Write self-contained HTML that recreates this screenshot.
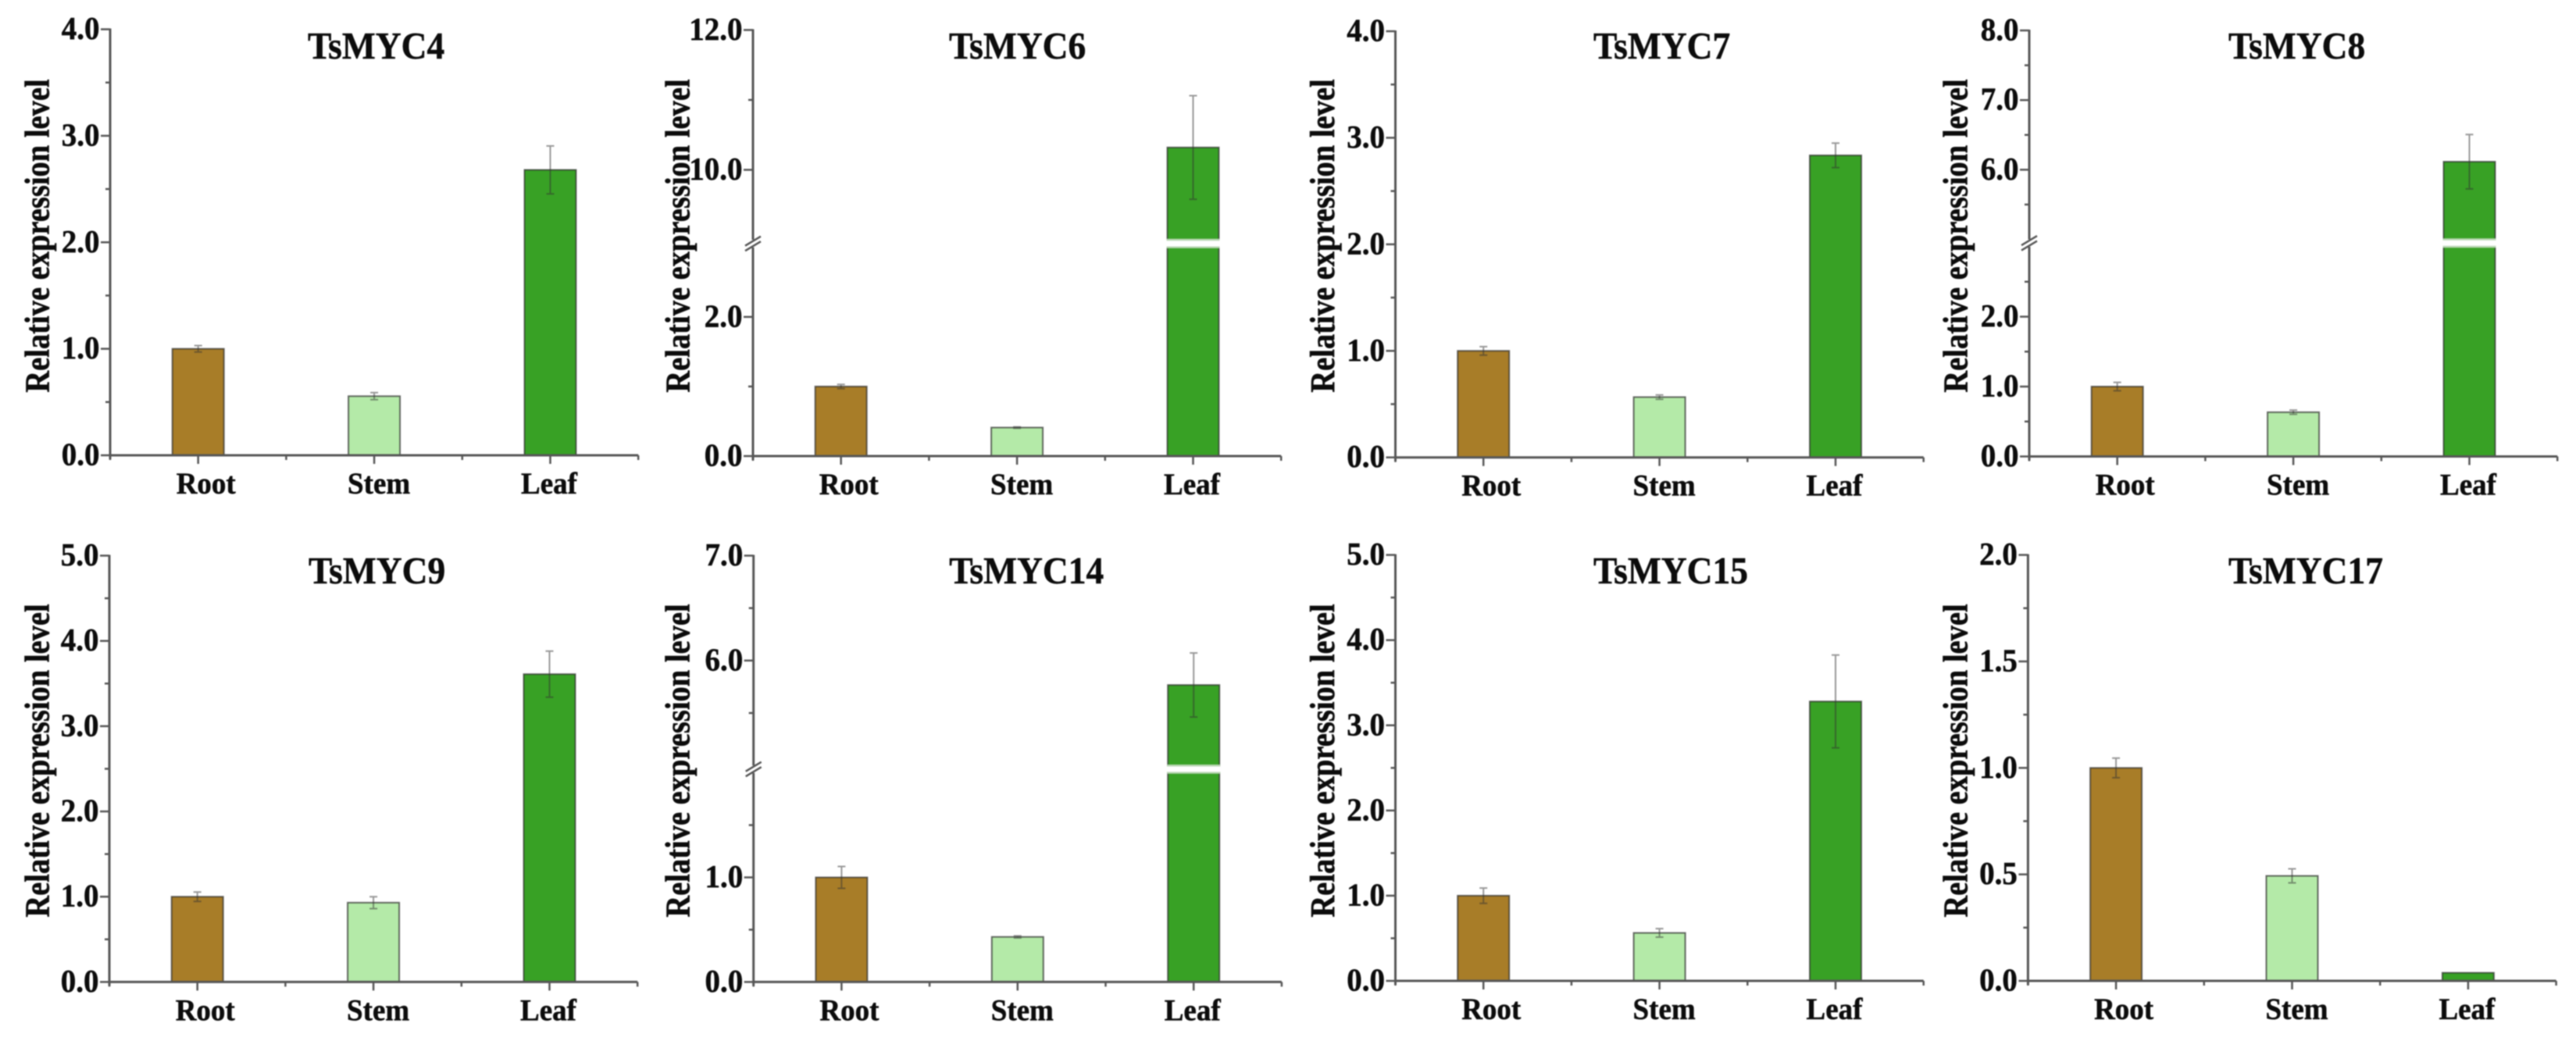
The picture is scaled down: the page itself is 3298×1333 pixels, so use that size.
<!DOCTYPE html>
<html lang="en">
<head>
<meta charset="utf-8">
<title>TsMYC relative expression levels</title>
<style>
html,body{margin:0;padding:0;background:#fff;width:3298px;height:1333px;overflow:hidden}
svg{display:block;filter:blur(0.8px)}
text{font-family:"Liberation Serif",serif;font-weight:bold;fill:#0c0c0c;stroke:#0c0c0c;stroke-width:0.5px}
</style>
</head>
<body>
<svg id="figure" xmlns="http://www.w3.org/2000/svg" width="3298" height="1333" viewBox="0 0 3298 1333"></svg>
<script>
// ---- chart data ----
const categories = ['Root', 'Stem', 'Leaf'];
const geneNames = ['TsMYC4', 'TsMYC6', 'TsMYC7', 'TsMYC8', 'TsMYC9', 'TsMYC14', 'TsMYC15', 'TsMYC17'];

const tsMYC4Values = [1.0, 0.555, 2.68];
const tsMYC4Errors = [0.03, 0.033, 0.225];
const tsMYC6Values = [1.0, 0.41, 10.32];
const tsMYC6Errors = [0.03, 0.01, 0.74];
const tsMYC7Values = [1.0, 0.566, 2.835];
const tsMYC7Errors = [0.04, 0.02, 0.115];
const tsMYC8Values = [1.0, 0.633, 6.115];
const tsMYC8Errors = [0.06, 0.03, 0.39];
const tsMYC9Values = [1.0, 0.93, 3.61];
const tsMYC9Errors = [0.055, 0.07, 0.27];
const tsMYC14Values = [1.0, 0.431, 5.767];
const tsMYC14Errors = [0.105, 0.01, 0.305];
const tsMYC15Values = [1.0, 0.563, 3.28];
const tsMYC15Errors = [0.09, 0.05, 0.545];
const tsMYC17Values = [1.0, 0.493, 0.038];
const tsMYC17Errors = [0.046, 0.033, 0];

const tsMYC4Ticks = ['0.0', '1.0', '2.0', '3.0', '4.0'];
const tsMYC6Ticks = ['0.0', '2.0', '10.0', '12.0'];
const tsMYC7Ticks = ['0.0', '1.0', '2.0', '3.0', '4.0'];
const tsMYC8Ticks = ['0.0', '1.0', '2.0', '6.0', '7.0', '8.0'];
const tsMYC9Ticks = ['0.0', '1.0', '2.0', '3.0', '4.0', '5.0'];
const tsMYC14Ticks = ['0.0', '1.0', '6.0', '7.0'];
const tsMYC15Ticks = ['0.0', '1.0', '2.0', '3.0', '4.0', '5.0'];
const tsMYC17Ticks = ['0.0', '0.5', '1.0', '1.5', '2.0'];

const tsMYC4Minor = [0.5, 1.5, 2.5, 3.5];
const tsMYC6Minor = [1, 11];
const tsMYC7Minor = [0.5, 1.5, 2.5, 3.5];
const tsMYC8Minor = [0.5, 1.5, 2.5, 5.5, 6.5, 7.5];
const tsMYC9Minor = [0.5, 1.5, 2.5, 3.5, 4.5];
const tsMYC14Minor = [0.5, 1.5, 5.5, 6.5];
const tsMYC15Minor = [0.5, 1.5, 2.5, 3.5, 4.5];
const tsMYC17Minor = [0.25, 0.75, 1.25, 1.75];

// axis ranges: [lower start, lower end, upper start, upper end]; no break when only two values
const tsMYC4Range = [0, 4];
const tsMYC6Range = [0, 3, 9, 12];
const tsMYC7Range = [0, 4];
const tsMYC8Range = [0, 3, 5, 8];
const tsMYC9Range = [0, 5];
const tsMYC14Range = [0, 2, 5, 7];
const tsMYC15Range = [0, 5];
const tsMYC17Range = [0, 2];

const seriesValues = [tsMYC4Values, tsMYC6Values, tsMYC7Values, tsMYC8Values, tsMYC9Values, tsMYC14Values, tsMYC15Values, tsMYC17Values];
const seriesErrors = [tsMYC4Errors, tsMYC6Errors, tsMYC7Errors, tsMYC8Errors, tsMYC9Errors, tsMYC14Errors, tsMYC15Errors, tsMYC17Errors];
const seriesTicks = [tsMYC4Ticks, tsMYC6Ticks, tsMYC7Ticks, tsMYC8Ticks, tsMYC9Ticks, tsMYC14Ticks, tsMYC15Ticks, tsMYC17Ticks];
const seriesMinor = [tsMYC4Minor, tsMYC6Minor, tsMYC7Minor, tsMYC8Minor, tsMYC9Minor, tsMYC14Minor, tsMYC15Minor, tsMYC17Minor];
const seriesRanges = [tsMYC4Range, tsMYC6Range, tsMYC7Range, tsMYC8Range, tsMYC9Range, tsMYC14Range, tsMYC15Range, tsMYC17Range];

// ---- layout (pixel frames of each panel, not data) ----
const frames = [
  {ax: 141,    top: 37.5,  base: 583,    lab: 78.5, titleDx: 253, titleY: 75,  labCy: 302},
  {ax: 964,    top: 38.4,  base: 584,    lab: 81.4, titleDx: 251, titleY: 75,  labCy: 302, gapTop: 307,   gapBot: 316.7},
  {ax: 1786.5, top: 40,    base: 585.7,  lab: 78.5, titleDx: 253.5, titleY: 75, labCy: 302},
  {ax: 2598,   top: 39,    base: 584.5,  lab: 79.5, titleDx: 255, titleY: 75,  labCy: 302, gapTop: 306.5, gapBot: 316},
  {ax: 140,    top: 711.5, base: 1257.4, lab: 77.5, titleDx: 255, titleY: 747, labCy: 974},
  {ax: 964.7,  top: 711.5, base: 1257.4, lab: 82,   titleDx: 250.5, titleY: 747, labCy: 974, gapTop: 980.2, gapBot: 989.6},
  {ax: 1786.5, top: 710.6, base: 1256,   lab: 78.5, titleDx: 253.5, titleY: 747, labCy: 974},
  {ax: 2596.4, top: 710.6, base: 1256,   lab: 78,   titleDx: 256.6, titleY: 747, labCy: 974}
];
const barFills = ['#a87d28', '#b4eaa8', '#38a125'];
const slotWidth = 112.7;
const barWidth = 66;
const labelNudges = [10, 6, -1.5];
const textStretch = 1.07;
const yTitleStretch = 1.16;

const NS = 'http://www.w3.org/2000/svg';
const svg = document.getElementById('figure');

function make(parent, tag, attrs, content) {
  const el = document.createElementNS(NS, tag);
  for (const k in attrs) el.setAttribute(k, attrs[k]);
  if (content !== undefined) el.textContent = content;
  parent.appendChild(el);
  return el;
}

function place(x, y) {
  return 'translate(' + x + ',' + y + ') scale(1,' + textStretch + ')';
}

function makeYScale(range, f) {
  if (range.length === 2) {
    return v => f.base - (v - range[0]) / (range[1] - range[0]) * (f.base - f.top);
  }
  return v => {
    if (v <= range[1]) return f.base - (v - range[0]) / (range[1] - range[0]) * (f.base - f.gapBot);
    return f.gapTop - (v - range[2]) / (range[3] - range[2]) * (f.gapTop - f.top);
  };
}

geneNames.forEach((gene, p) => {
  const f = frames[p];
  const range = seriesRanges[p];
  const y = makeYScale(range, f);
  const x = slot => f.ax + slotWidth * slot;
  const hasBreak = range.length === 4;
  const slug = gene.toLowerCase();

  const g = make(svg, 'g', {});
  
  

  const title = make(g, 'text', {transform: place(f.ax + f.titleDx, f.titleY), 'font-size': 45.5}, gene);
  
  

  const yTitle = make(g, 'text', {
    transform: 'translate(' + (f.ax - f.lab) + ',' + f.labCy + ') rotate(-90) scale(1,' + yTitleStretch + ')',
    'text-anchor': 'middle', 'font-size': 38.5
  }, 'Relative expression level');
  
  

  // bars
  categories.forEach((cat, i) => {
    const v = seriesValues[p][i];
    const cx = x(2 * i + 1);
    const barStyle = {
      x: cx - barWidth / 2, width: barWidth, fill: barFills[i],
      stroke: 'rgba(40,40,40,0.68)', 'stroke-width': 2
    };
    if (hasBreak && v > range[1]) {
      const lower = make(g, 'rect', Object.assign({}, barStyle, {y: f.gapBot, height: f.base - f.gapBot}));
      
      
      const upper = make(g, 'rect', Object.assign({}, barStyle, {y: y(v), height: f.gapTop - y(v)}));
      
      
      const gapEdges = make(g, 'path', {
        d: 'M' + (cx - barWidth / 2 - 1) + ' ' + f.gapTop + 'h' + (barWidth + 2) + 'M' + (cx - barWidth / 2 - 1) + ' ' + f.gapBot + 'h' + (barWidth + 2),
        stroke: '#b9d6b3', 'stroke-width': 2.4, fill: 'none'
      });
      
      
    } else {
      const bar = make(g, 'rect', Object.assign({}, barStyle, {y: y(v), height: f.base - y(v)}));
      
      
    }

    const e = seriesErrors[p][i];
    if (e > 0) {
      const hi = y(v + e), lo = y(v - e);
      const err = make(g, 'path', {
        d: 'M' + (cx - 5) + ' ' + hi + 'H' + (cx + 5) + 'M' + cx + ' ' + hi + 'V' + lo + 'M' + (cx - 5) + ' ' + lo + 'H' + (cx + 5),
        fill: 'none', stroke: 'rgba(50,50,50,0.5)', 'stroke-width': 2
      });
      
      
    }

    const label = make(g, 'text', {
      transform: place(cx + labelNudges[i], f.base + 49), 'text-anchor': 'middle', 'font-size': 37
    }, cat);
    
    
  });

  // y axis line
  const axisStyle = {fill: 'none', stroke: '#565656', 'stroke-width': 3};
  const yAxisPath = hasBreak
    ? 'M' + f.ax + ' ' + (f.base + 5) + 'V' + f.gapBot + 'M' + f.ax + ' ' + f.gapTop + 'V' + (f.top - 1)
    : 'M' + f.ax + ' ' + (f.base + 5) + 'V' + (f.top - 1);
  const yAxis = make(g, 'path', Object.assign({}, axisStyle, {d: yAxisPath}));
  
  

  // x axis line
  const xAxis = make(g, 'path', Object.assign({}, axisStyle, {d: 'M' + f.ax + ' ' + f.base + 'H' + x(6)}));
  
  

  // x ticks
  for (let k = 0; k <= 6; k++) {
    const len = k % 2 === 1 ? 11 : 6;
    const tick = make(g, 'path', {d: 'M' + x(k) + ' ' + f.base + 'v' + len, stroke: '#565656', 'stroke-width': 2.5});
    
    
  }

  // y major ticks + labels
  seriesTicks[p].forEach(label => {
    const ty = y(parseFloat(label));
    const tick = make(g, 'path', {d: 'M' + f.ax + ' ' + ty + 'h-12', stroke: '#565656', 'stroke-width': 2.5});
    
    
    const txt = make(g, 'text', {transform: place(f.ax - 13.5, ty + 12.5), 'text-anchor': 'end', 'font-size': 39}, label);
    
    
  });

  // y minor ticks
  seriesMinor[p].forEach(v => {
    const tick = make(g, 'path', {d: 'M' + f.ax + ' ' + y(v) + 'h-6', stroke: '#565656', 'stroke-width': 2.5});
    
    
  });

  // axis break marks
  if (hasBreak) {
    const mid = (f.gapTop + f.gapBot) / 2;
    const mark = make(g, 'path', {
      d: 'M' + (f.ax - 10) + ' ' + (mid + 2.8) + 'l20 -12M' + (f.ax - 10) + ' ' + (mid + 9.3) + 'l20 -12',
      fill: 'none', stroke: '#555', 'stroke-width': 2.5
    });
    
    
  }
});
</script>
</body>
</html>
